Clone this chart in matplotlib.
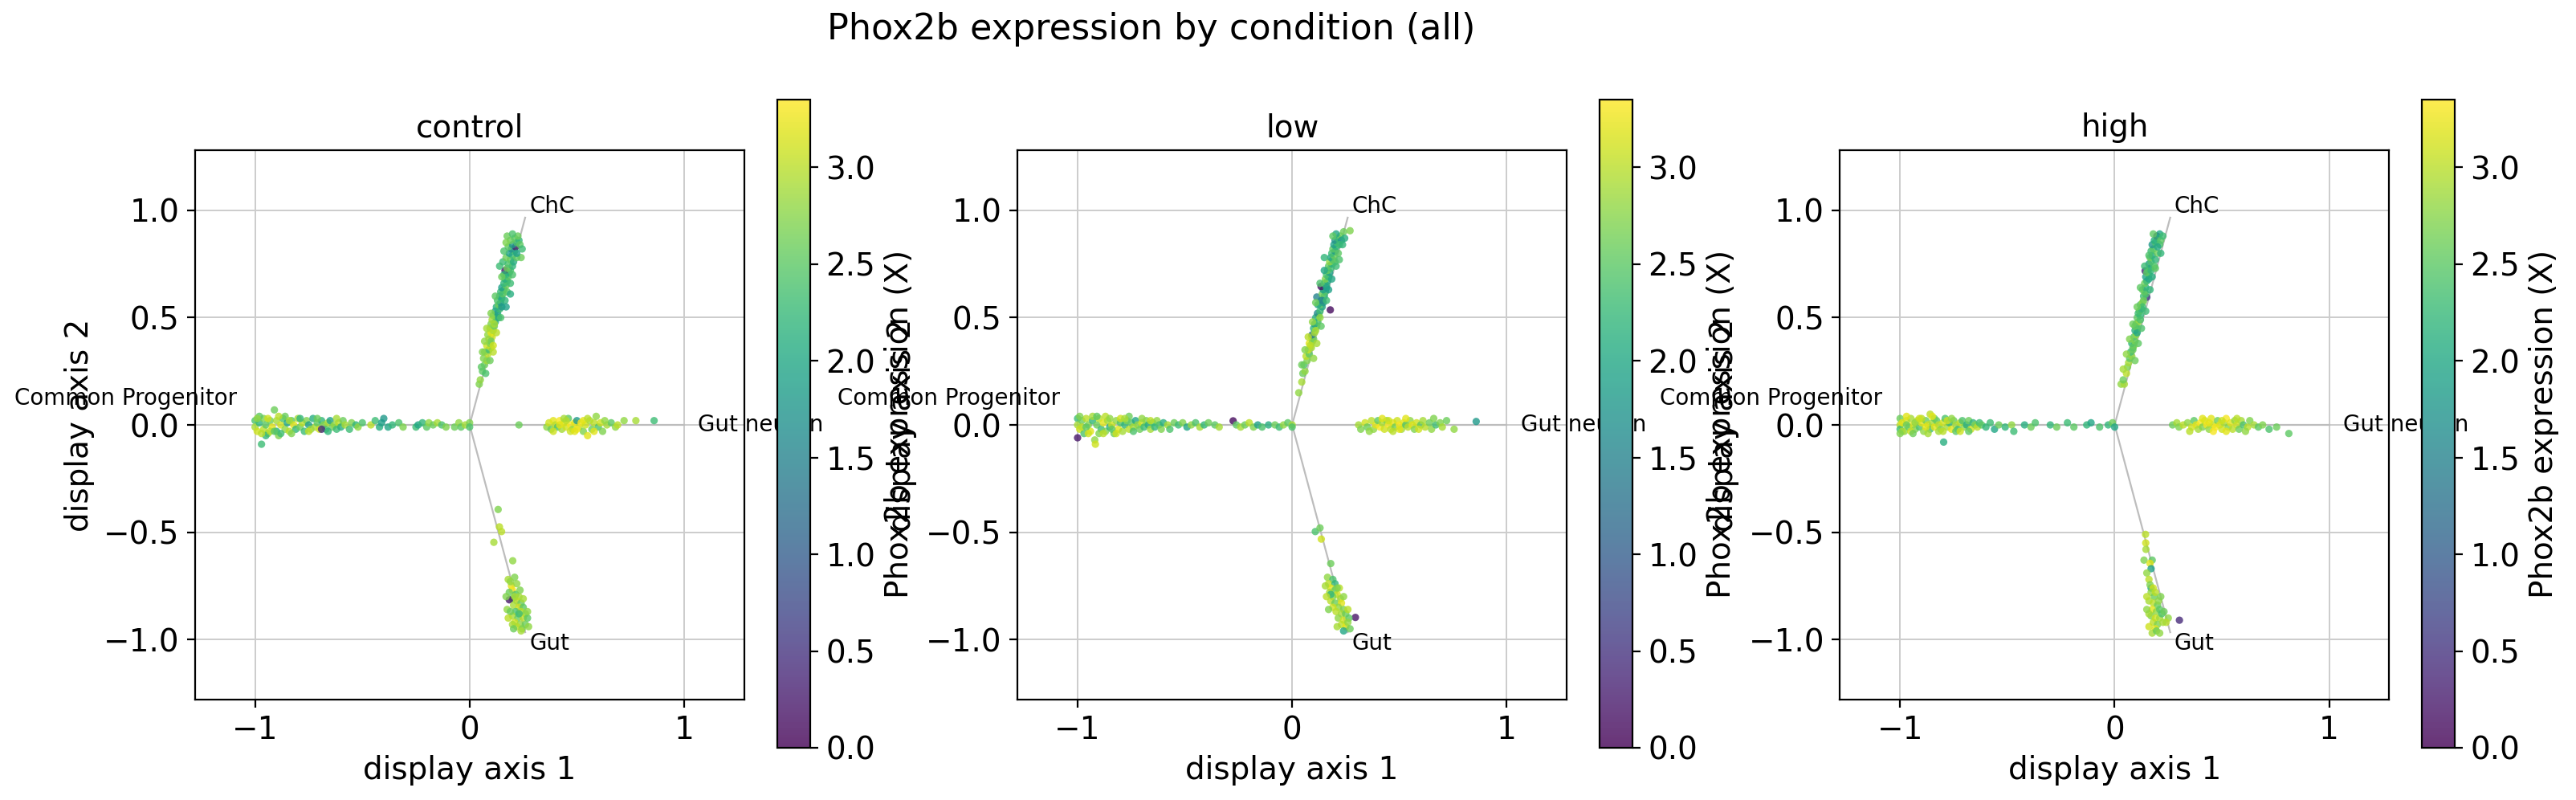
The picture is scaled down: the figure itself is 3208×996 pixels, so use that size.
import matplotlib
matplotlib.use('Agg')
import matplotlib.pyplot as plt
import numpy as np


conditions = ['control', 'low', 'high']
branch_names = ['Common Progenitor', 'Gut neuron', 'ChC', 'Gut']
branch_ends = [(-1.0, 0.0), (1.0, 0.0), (0.259, 0.966), (0.259, -0.966)]

# (x, y, Phox2b) per branch
control_cp = [(-1.0,0.02,2.4),(-1.0,-0.01,2.9),(-0.99,-0.03,3.1),(-0.98,0.01,2.2),(-0.97,-0.09,2.3),(-0.96,0.03,2.7),
    (-0.96,-0.02,3.0),(-0.95,0.0,2.5),(-0.94,-0.04,2.8),(-0.93,0.02,2.6),(-0.92,-0.01,3.2),(-0.91,0.07,2.6),(-0.9,-0.03,2.1),
    (-0.9,0.02,2.9),(-0.89,-0.05,2.7),(-0.88,0.0,3.1),(-0.87,0.03,2.4),(-0.86,-0.02,2.8),(-0.85,0.01,2.0),(-0.84,-0.03,3.0),
    (-0.83,0.02,2.5),(-0.82,0.0,3.2),(-0.81,-0.02,2.2),(-0.8,0.03,2.9),(-0.79,-0.01,2.6),(-0.78,0.01,3.0),(-0.77,-0.03,2.3),
    (-0.76,0.02,2.7),(-0.75,0.0,1.9),(-0.74,-0.02,2.8),(-0.73,0.03,2.1),(-0.72,-0.01,2.9),(-0.71,0.01,2.5),(-0.7,-0.02,3.1),
    (-0.69,0.02,2.2),(-0.68,0.0,2.7),(-0.67,-0.02,2.4),(-0.66,0.01,2.9),(-0.65,0.02,1.9),(-0.64,-0.01,2.6),(-0.63,0.0,2.8),
    (-0.62,-0.02,2.3),(-0.61,0.01,3.0),(-0.6,-0.01,2.1),(-0.59,0.02,2.6),(-0.58,0.0,2.9),(-0.56,-0.02,2.3),(-0.55,0.01,2.7),
    (-0.53,0.0,2.2),(-0.52,-0.01,2.8),(-0.5,0.01,2.4),(-0.98,0.04,2.5),(-0.95,-0.05,2.2),(-0.93,-0.03,3.0),(-0.88,-0.04,2.3),
    (-0.86,0.04,2.6),(-0.84,0.02,2.9),(-0.69,-0.02,0.4),(-0.46,0.0,3.0),(-0.44,0.02,2.3),(-0.42,-0.01,2.1),(-0.41,0.01,1.9),
    (-0.4,0.03,1.8),(-0.38,-0.01,2.0),(-0.36,0.0,2.2),(-0.33,0.01,2.4),(-0.31,-0.01,2.7),(-0.25,-0.01,2.3),(-0.24,0.0,2.0),
    (-0.22,0.01,2.2),(-0.2,-0.01,2.5),(-0.19,0.01,2.8),(-0.17,0.0,2.6),(-0.15,0.01,2.9),(-0.13,0.0,2.4),(-0.11,-0.01,2.7),
    (-0.07,-0.01,2.6),(-0.05,0.01,2.8),(-0.04,-0.01,2.5),(-0.02,0.0,2.9),(0.0,0.01,2.7),(0.0,-0.01,2.4),
    (-0.99,0.03,2.8),(-0.97,-0.04,3.0),(-0.94,0.03,3.1),(-0.91,-0.03,2.5),(-0.89,0.04,3.0),(-0.83,-0.04,2.7),
    (-0.79,0.03,2.2),(-0.75,-0.03,3.0),(-0.71,0.03,2.6),(-0.66,-0.03,2.2),(-0.62,0.03,2.9)]
control_gn = [(0.23,0.0,2.6),(0.36,-0.01,2.8),(0.37,0.01,3.1),(0.38,-0.02,2.6),(0.39,0.02,3.2),(0.4,0.0,3.0),(0.41,-0.01,2.4),
    (0.42,0.02,3.3),(0.43,-0.02,2.9),(0.44,0.01,3.2),(0.45,-0.01,3.1),(0.46,0.03,2.5),(0.47,0.0,3.3),(0.48,-0.02,2.8),
    (0.49,0.01,3.2),(0.5,0.02,1.8),(0.51,-0.01,3.0),(0.52,0.01,3.3),(0.53,-0.03,2.7),(0.54,0.0,3.1),(0.55,-0.05,3.2),
    (0.56,0.02,2.9),(0.57,-0.02,2.6),(0.58,0.01,3.0),(0.59,0.04,2.8),(0.6,-0.01,2.4),(0.61,0.01,3.1),(0.62,-0.03,2.7),
    (0.64,0.0,2.9),(0.66,0.01,2.5),(0.68,-0.01,2.8),(0.69,0.0,3.0),(0.72,0.02,2.8),(0.775,0.02,2.9),(0.86,0.02,2.3),
    (0.42,0.0,3.2),(0.45,0.02,3.0),(0.5,-0.02,3.3),(0.47,-0.03,3.1),(0.53,0.02,3.2),
    (0.39,-0.03,3.1),(0.44,0.03,2.9),(0.49,-0.03,3.2),(0.55,0.03,3.0),(0.58,-0.03,3.2),(0.63,0.02,2.8)]
control_chc = [(0.045,0.19,2.7),(0.05,0.21,2.8),(0.06,0.25,2.5),(0.075,0.24,2.4),(0.07,0.28,2.6),(0.08,0.30,2.9),
    (0.065,0.31,2.7),(0.085,0.33,3.0),(0.07,0.34,2.8),(0.09,0.35,2.3),(0.1,0.36,2.9),(0.08,0.37,3.1),(0.095,0.38,2.7),
    (0.09,0.40,3.0),(0.105,0.41,3.1),(0.085,0.42,2.8),(0.1,0.43,3.2),(0.11,0.44,2.9),(0.095,0.45,3.0),(0.115,0.46,2.6),
    (0.1,0.47,2.7),(0.12,0.48,2.2),(0.105,0.49,2.9),(0.125,0.50,2.5),(0.11,0.51,2.8),(0.13,0.52,2.0),(0.12,0.53,1.9),
    (0.14,0.54,2.3),(0.125,0.55,2.1),(0.135,0.56,2.6),(0.145,0.57,1.9),(0.13,0.58,2.4),(0.15,0.59,2.2),(0.14,0.60,2.0),
    (0.155,0.61,2.5),(0.145,0.62,2.3),(0.16,0.63,2.4),(0.15,0.64,1.9),(0.17,0.65,2.6),(0.16,0.66,2.2),(0.175,0.67,2.4),
    (0.165,0.68,2.1),(0.18,0.69,2.5),(0.17,0.70,2.3),(0.185,0.71,2.0),(0.165,0.72,0.2),(0.19,0.72,2.4),(0.175,0.73,2.6),
    (0.2,0.74,2.2),(0.18,0.75,2.4),(0.155,0.76,2.3),(0.19,0.77,2.5),(0.205,0.76,2.1),(0.17,0.78,2.6),(0.2,0.79,2.3),
    (0.185,0.80,1.9),(0.21,0.81,2.4),(0.195,0.82,1.7),(0.18,0.83,2.5),(0.215,0.83,0.3),(0.2,0.84,1.8),(0.22,0.85,2.4),
    (0.19,0.86,2.6),(0.21,0.87,2.5),(0.23,0.86,2.2),(0.17,0.85,2.7),(0.225,0.88,2.6),(0.235,0.84,2.5),(0.24,0.78,2.6),
    (0.1,0.39,2.6),(0.115,0.47,2.9),(0.135,0.5,2.0),(0.15,0.55,1.8),(0.16,0.7,2.2),(0.2,0.7,2.4),(0.175,0.62,2.5),
    (0.11,0.34,3.0),(0.14,0.74,2.3),(0.22,0.78,2.5),(0.245,0.82,2.3),(0.16,0.81,2.4),(0.175,0.88,2.6),(0.2,0.89,2.4),
    (0.22,0.8,1.9),(0.15,0.69,2.6),(0.19,0.66,2.3),(0.12,0.6,2.5),(0.165,0.58,2.2),(0.1,0.52,2.7),(0.145,0.5,2.4),
    (0.08,0.45,2.9),(0.125,0.43,3.0),(0.07,0.39,2.8),(0.11,0.37,3.1),(0.06,0.34,2.7),(0.095,0.3,2.6),(0.055,0.27,2.5),
    (0.19,0.61,2.1),(0.17,0.55,1.9)]
control_gut = [(0.133,-0.394,2.7),(0.139,-0.475,3.0),(0.149,-0.497,3.0),(0.113,-0.547,2.9),(0.201,-0.633,2.8),
    (0.18,-0.72,2.9),(0.21,-0.71,2.7),(0.195,-0.75,3.2),(0.22,-0.74,2.8),(0.2,-0.77,3.3),(0.185,-0.78,2.6),(0.215,-0.79,2.4),
    (0.23,-0.8,2.9),(0.2,-0.81,2.5),(0.185,-0.815,0.2),(0.22,-0.82,3.0),(0.24,-0.83,2.6),(0.205,-0.84,2.9),(0.23,-0.85,3.1),
    (0.25,-0.85,2.5),(0.175,-0.86,2.8),(0.215,-0.87,2.4),(0.24,-0.87,3.0),(0.26,-0.88,2.7),(0.2,-0.89,2.9),(0.225,-0.9,2.6),
    (0.25,-0.9,3.0),(0.27,-0.9,2.5),(0.21,-0.92,3.1),(0.235,-0.93,2.8),(0.26,-0.93,2.6),(0.22,-0.94,3.0),(0.245,-0.95,2.7),
    (0.275,-0.94,2.8),(0.2,-0.93,2.9),(0.23,-0.88,2.3),(0.21,-0.8,2.9),(0.235,-0.77,2.7),
    (0.19,-0.73,2.8),(0.17,-0.8,2.7),(0.25,-0.81,2.9),(0.19,-0.87,2.6),(0.27,-0.87,2.8),(0.24,-0.96,2.9),(0.205,-0.95,2.6),
    (0.18,-0.9,3.0)]

low_cp = [(-1.0,0.03,2.3),(-1.0,0.0,2.9),(-1.0,-0.06,0.2),(-0.99,-0.02,3.1),(-0.98,0.02,2.6),(-0.97,-0.04,2.4),
    (-0.96,0.03,3.0),(-0.95,0.0,2.7),(-0.94,-0.03,3.2),(-0.93,0.02,2.2),(-0.92,-0.07,2.8),(-0.917,-0.09,3.1),(-0.91,0.0,2.6),
    (-0.9,0.03,3.0),(-0.89,-0.02,2.3),(-0.88,0.01,3.2),(-0.87,-0.03,2.7),(-0.86,0.02,2.9),(-0.85,-0.01,2.1),(-0.84,0.0,3.1),
    (-0.83,-0.04,2.6),(-0.82,0.02,2.8),(-0.81,-0.02,3.2),(-0.8,0.01,2.4),(-0.79,-0.03,2.9),(-0.78,0.0,2.2),(-0.77,0.02,2.7),
    (-0.76,-0.02,3.0),(-0.75,0.01,2.5),(-0.74,-0.01,2.9),(-0.73,0.02,2.0),(-0.72,0.0,2.8),(-0.71,-0.02,2.6),(-0.7,0.01,3.1),
    (-0.69,-0.01,2.3),(-0.68,0.02,2.7),(-0.67,0.0,2.1),(-0.66,-0.02,2.9),(-0.65,0.01,2.5),(-0.64,-0.01,2.2),(-0.63,0.02,2.8),
    (-0.62,0.0,2.4),(-0.61,-0.02,2.7),(-0.6,0.01,2.1),(-0.58,0.0,2.9),(-0.57,-0.02,2.4),(-0.55,0.01,2.6),(-0.98,-0.01,3.0),
    (-0.96,-0.01,2.5),(-0.93,0.04,2.9),(-0.9,-0.04,2.7),(-0.87,0.04,3.0),(-0.84,-0.02,2.5),(-0.8,0.03,3.1),(-0.76,0.04,2.6),
    (-0.53,0.0,2.3),(-0.51,0.01,2.7),(-0.49,-0.01,2.0),(-0.47,0.0,2.8),(-0.45,0.01,2.4),(-0.43,-0.01,2.9),(-0.41,0.0,2.2),
    (-0.39,0.01,2.6),(-0.36,0.0,2.5),(-0.34,-0.01,2.9),(-0.275,0.019,0.1),(-0.26,0.0,2.5),(-0.24,-0.01,2.9),(-0.22,0.0,2.6),
    (-0.2,0.01,3.0),(-0.18,-0.01,2.7),(-0.16,0.0,1.9),(-0.14,-0.01,2.4),(-0.11,0.0,2.1),(-0.08,0.0,2.6),(-0.06,-0.01,2.3),
    (-0.04,0.0,2.8),(-0.02,0.01,2.5),(0.0,0.0,2.9),(0.0,-0.01,2.4),
    (-0.99,0.04,2.7),(-0.95,-0.04,3.1),(-0.91,0.04,2.5),(-0.88,-0.04,3.0),(-0.85,0.03,2.8),(-0.82,-0.04,3.1),
    (-0.78,0.03,2.9),(-0.74,-0.03,2.4),(-0.7,0.03,2.8),(-0.66,0.02,3.0)]
low_gn = [(0.31,0.0,2.9),(0.32,-0.02,2.7),(0.34,0.01,3.1),(0.35,-0.01,2.6),(0.37,0.02,3.0),(0.38,-0.02,2.8),(0.39,0.0,3.2),
    (0.4,0.02,2.5),(0.41,-0.01,3.3),(0.42,0.01,2.9),(0.43,-0.02,3.1),(0.44,0.02,2.7),(0.45,0.0,3.3),(0.46,-0.02,3.0),
    (0.47,0.01,3.2),(0.48,-0.01,2.6),(0.49,0.02,3.1),(0.5,0.0,3.3),(0.51,-0.02,2.9),(0.52,0.01,3.2),(0.53,0.0,2.4),
    (0.54,-0.01,3.0),(0.55,0.02,2.8),(0.56,0.0,3.2),(0.57,-0.02,2.7),(0.58,0.01,3.1),(0.6,0.0,2.5),(0.61,0.02,2.9),
    (0.62,-0.01,3.0),(0.64,0.01,2.6),(0.65,-0.02,2.8),(0.67,0.0,2.3),(0.69,0.01,2.7),(0.7,-0.01,2.9),(0.72,0.02,2.6),
    (0.755,-0.02,2.8),(0.858,0.016,1.8),(0.45,0.02,3.1),(0.5,-0.02,3.2),
    (0.36,-0.03,2.8),(0.42,0.03,3.2),(0.47,-0.03,3.0),(0.53,0.03,3.2),(0.59,-0.02,3.1),(0.66,0.03,2.7)]
low_chc = [(0.031,0.15,2.8),(0.045,0.2,2.9),(0.05,0.24,2.6),(0.06,0.25,2.8),(0.055,0.28,2.4),(0.07,0.3,2.7),(0.065,0.32,3.0),
    (0.08,0.33,2.5),(0.075,0.35,3.1),(0.09,0.36,2.9),(0.08,0.38,3.2),(0.095,0.39,2.8),(0.09,0.41,3.0),(0.1,0.4,2.6),
    (0.093,0.42,1.3),(0.105,0.43,2.9),(0.1,0.45,2.2),(0.115,0.46,2.7),(0.105,0.47,1.9),(0.12,0.48,2.4),(0.11,0.5,2.1),
    (0.125,0.51,2.6),(0.118,0.52,1.6),(0.13,0.53,2.3),(0.178,0.536,0.1),(0.14,0.55,2.0),(0.13,0.56,2.5),(0.145,0.57,1.8),
    (0.135,0.58,2.3),(0.115,0.596,1.5),(0.15,0.6,2.1),(0.14,0.61,2.6),(0.155,0.62,2.4),(0.145,0.63,1.9),(0.135,0.645,0.1),
    (0.16,0.65,2.3),(0.15,0.66,2.5),(0.165,0.67,2.0),(0.155,0.68,2.7),(0.17,0.69,2.2),(0.16,0.7,2.4),(0.175,0.71,1.9),
    (0.165,0.72,2.6),(0.18,0.73,2.3),(0.17,0.74,2.5),(0.185,0.75,2.1),(0.175,0.76,2.8),(0.19,0.77,2.4),(0.18,0.78,2.0),
    (0.195,0.79,2.6),(0.185,0.8,2.3),(0.2,0.81,1.8),(0.19,0.82,2.5),(0.205,0.83,2.2),(0.195,0.84,1.9),(0.21,0.85,2.4),
    (0.2,0.86,1.7),(0.215,0.87,2.3),(0.225,0.88,2.6),(0.205,0.89,2.0),(0.24,0.9,2.6),(0.27,0.905,2.7),(0.23,0.86,1.8),
    (0.215,0.8,2.5),(0.22,0.84,2.3),(0.2,0.76,2.5),(0.16,0.64,1.9),(0.13,0.5,2.8),(0.11,0.44,2.9),(0.085,0.37,3.0),
    (0.12,0.56,2.0),(0.14,0.58,1.5),(0.15,0.72,2.0),
    (0.15,0.78,2.2),(0.22,0.77,2.4),(0.235,0.84,2.2),(0.19,0.88,2.5),(0.245,0.87,2.1),(0.13,0.66,2.4),(0.185,0.68,2.0),
    (0.11,0.57,2.6),(0.16,0.58,2.3),(0.095,0.48,2.8),(0.135,0.46,2.5),(0.075,0.41,3.0),(0.115,0.38,2.9),(0.06,0.35,2.7),
    (0.1,0.31,2.8),(0.045,0.28,2.6),(0.205,0.74,2.3),(0.17,0.63,1.9)]
low_gut = [(0.108,-0.497,2.4),(0.13,-0.48,2.6),(0.136,-0.532,3.1),(0.18,-0.646,2.6),(0.165,-0.71,2.8),(0.19,-0.72,2.4),
    (0.17,-0.74,3.0),(0.2,-0.74,2.2),(0.18,-0.76,3.2),(0.2,-0.77,2.5),(0.175,-0.78,2.9),(0.21,-0.79,3.1),(0.19,-0.8,2.7),
    (0.225,-0.81,2.9),(0.18,-0.82,3.0),(0.2,-0.83,2.6),(0.23,-0.83,3.2),(0.215,-0.85,2.8),(0.19,-0.85,3.1),(0.24,-0.86,2.7),
    (0.205,-0.87,3.0),(0.23,-0.88,2.9),(0.25,-0.88,2.6),(0.295,-0.897,0.2),(0.215,-0.9,2.8),(0.24,-0.91,3.1),(0.265,-0.9,2.5),
    (0.23,-0.93,3.0),(0.25,-0.94,3.2),(0.24,-0.96,2.0),(0.26,-0.92,2.8),(0.18,-0.79,2.2),(0.22,-0.76,3.0),
    (0.155,-0.75,2.9),(0.21,-0.76,2.7),(0.16,-0.8,3.0),(0.24,-0.8,2.8),(0.17,-0.86,2.7),(0.26,-0.86,3.0),(0.21,-0.94,2.9),
    (0.27,-0.95,2.6)]

high_cp = [(-1.0,0.03,2.6),(-1.0,0.0,3.0),(-1.0,-0.02,2.3),(-0.99,0.01,3.2),(-0.98,-0.03,2.8),(-0.97,0.02,3.1),
    (-0.96,-0.01,2.5),(-0.95,0.03,2.9),(-0.94,0.0,3.2),(-0.93,-0.02,2.7),(-0.92,0.02,3.0),(-0.91,-0.01,2.4),(-0.9,0.01,3.2),
    (-0.89,-0.03,2.8),(-0.88,0.02,2.6),(-0.87,0.0,3.1),(-0.86,0.05,3.0),(-0.86,-0.02,2.3),(-0.85,0.01,2.9),(-0.84,-0.01,3.2),
    (-0.83,0.02,2.5),(-0.82,0.0,3.0),(-0.81,-0.02,2.7),(-0.8,0.01,3.1),(-0.797,-0.08,2.1),(-0.79,0.03,2.4),(-0.78,-0.01,2.9),
    (-0.77,0.01,2.2),(-0.76,-0.02,3.2),(-0.75,0.02,2.6),(-0.74,0.0,2.9),(-0.73,-0.02,2.3),(-0.72,0.01,3.0),(-0.71,0.02,2.4),
    (-0.7,-0.01,2.8),(-0.69,0.0,2.1),(-0.68,0.02,2.6),(-0.67,-0.02,3.1),(-0.66,0.01,2.2),(-0.65,0.0,2.7),(-0.64,-0.01,3.0),
    (-0.63,0.01,2.3),(-0.62,0.0,2.5),(-0.6,-0.01,2.2),(-0.99,-0.03,2.9),(-0.97,0.0,2.6),(-0.95,-0.03,3.1),(-0.93,0.01,2.8),
    (-0.9,0.03,3.0),(-0.88,-0.01,3.2),(-0.84,0.03,2.6),(-0.82,-0.03,2.9),(-0.78,0.02,3.1),(-0.74,-0.03,2.5),
    (-0.58,0.01,2.3),(-0.56,-0.02,2.0),(-0.54,0.0,2.6),(-0.51,-0.01,2.2),(-0.48,0.0,2.8),(-0.47,-0.03,2.3),(-0.42,0.0,2.1),
    (-0.39,-0.01,2.6),(-0.37,0.01,2.4),(-0.3,0.0,2.2),(-0.27,-0.01,2.6),(-0.22,0.01,2.3),(-0.19,-0.01,2.5),(-0.13,0.0,2.2),
    (-0.11,0.01,2.0),(-0.07,-0.01,2.4),(-0.03,0.0,2.2),(-0.01,0.01,2.6),(0.0,-0.01,2.0),
    (-1.0,-0.04,2.7),(-0.97,0.04,3.2),(-0.94,-0.04,2.6),(-0.91,0.03,3.1),(-0.87,-0.04,2.9),(-0.85,0.04,3.2),
    (-0.8,-0.03,3.0),(-0.76,0.03,2.8),(-0.72,-0.03,3.1),(-0.68,-0.03,2.5)]
high_gn = [(0.27,0.0,2.6),(0.29,0.01,2.9),(0.3,-0.01,2.7),(0.32,0.0,3.0),(0.34,0.01,2.8),(0.36,-0.01,3.1),(0.37,0.02,2.5),
    (0.38,0.0,3.2),(0.39,-0.02,2.9),(0.4,0.01,3.3),(0.41,-0.01,2.7),(0.42,0.02,3.1),(0.43,0.0,3.3),(0.44,-0.02,2.8),
    (0.45,0.03,3.2),(0.46,0.0,3.0),(0.47,-0.01,3.3),(0.48,0.02,2.6),(0.49,0.0,3.2),(0.5,-0.02,3.1),(0.51,0.01,2.9),
    (0.52,0.03,3.3),(0.53,-0.01,2.7),(0.54,0.01,3.2),(0.55,-0.02,3.0),(0.56,0.02,2.8),(0.57,0.0,3.1),(0.58,-0.02,2.6),
    (0.59,0.02,2.9),(0.6,0.0,2.4),(0.62,-0.01,3.0),(0.63,0.02,2.7),(0.65,0.0,2.9),(0.67,-0.01,2.5),(0.69,0.0,2.7),
    (0.72,-0.02,2.4),(0.755,-0.01,2.6),(0.812,-0.04,2.5),(0.44,0.01,3.2),(0.5,0.02,3.1),
    (0.35,-0.03,3.0),(0.41,0.03,3.2),(0.46,-0.03,3.3),(0.52,-0.03,3.2),(0.57,0.03,3.0),(0.61,-0.03,2.8)]
high_chc = [(0.03,0.19,2.8),(0.045,0.19,2.9),(0.04,0.21,2.6),(0.055,0.24,3.0),(0.06,0.27,2.7),(0.065,0.29,2.9),
    (0.07,0.31,2.5),(0.08,0.32,2.8),(0.075,0.34,2.3),(0.085,0.35,2.6),(0.09,0.37,2.9),(0.08,0.38,2.2),(0.095,0.39,2.7),
    (0.09,0.41,2.4),(0.1,0.42,2.8),(0.095,0.44,2.1),(0.105,0.45,2.6),(0.1,0.47,2.3),(0.11,0.48,2.9),(0.105,0.5,2.5),
    (0.12,0.51,2.2),(0.115,0.53,2.7),(0.125,0.54,1.9),(0.12,0.56,2.4),(0.13,0.57,2.8),(0.15,0.595,0.6),(0.135,0.6,2.3),
    (0.14,0.62,2.9),(0.13,0.63,2.5),(0.145,0.64,2.1),(0.14,0.66,2.6),(0.15,0.67,2.3),(0.145,0.69,1.9),(0.16,0.7,2.4),
    (0.142,0.718,0.4),(0.155,0.72,2.2),(0.165,0.73,2.5),(0.16,0.75,1.8),(0.17,0.76,2.4),(0.165,0.78,2.6),(0.175,0.79,2.0),
    (0.17,0.81,2.3),(0.18,0.82,2.5),(0.175,0.84,1.8),(0.19,0.85,2.4),(0.185,0.86,2.1),(0.197,0.88,0.3),(0.2,0.87,2.2),
    (0.21,0.89,2.0),(0.215,0.86,2.5),(0.2,0.8,2.6),(0.19,0.77,2.2),(0.185,0.74,2.4),(0.16,0.68,2.0),(0.135,0.58,2.6),
    (0.12,0.49,2.4),(0.105,0.43,2.0),(0.085,0.36,2.5),(0.11,0.52,2.3),(0.15,0.71,2.5),(0.21,0.84,2.4),(0.2,0.83,2.0),
    (0.17,0.72,2.2),(0.13,0.55,2.3),(0.095,0.46,2.5),(0.145,0.61,2.4),
    (0.14,0.74,2.3),(0.19,0.73,2.5),(0.215,0.8,2.2),(0.16,0.79,2.4),(0.18,0.89,2.5),(0.225,0.88,2.3),(0.12,0.64,2.5),
    (0.165,0.63,2.2),(0.105,0.55,2.6),(0.145,0.53,2.3),(0.085,0.47,2.6),(0.125,0.45,2.4),(0.07,0.4,2.7),(0.11,0.38,2.5),
    (0.055,0.33,2.8),(0.095,0.3,2.6),(0.04,0.26,2.9),(0.175,0.69,2.1)]
high_gut = [(0.144,-0.51,3.0),(0.145,-0.55,3.1),(0.146,-0.58,2.9),(0.137,-0.63,2.7),(0.175,-0.63,2.5),(0.165,-0.645,3.2),
    (0.17,-0.67,1.9),(0.15,-0.69,2.8),(0.16,-0.72,3.0),(0.17,-0.76,2.0),(0.165,-0.745,2.7),(0.18,-0.76,3.1),(0.17,-0.78,2.8),
    (0.185,-0.8,2.6),(0.16,-0.82,2.9),(0.18,-0.83,3.0),(0.2,-0.84,2.6),(0.175,-0.86,3.2),(0.195,-0.87,2.8),(0.21,-0.86,2.5),
    (0.17,-0.89,2.7),(0.19,-0.9,3.1),(0.21,-0.9,2.9),(0.18,-0.92,3.0),(0.2,-0.93,2.7),(0.19,-0.95,3.2),(0.175,-0.97,2.9),
    (0.302,-0.91,0.4),(0.22,-0.88,2.4),(0.16,-0.88,2.9),(0.205,-0.82,2.8),(0.19,-0.78,3.0),(0.195,-0.96,2.6),
    (0.23,-0.87,2.6),(0.25,-0.9,2.8),(0.24,-0.92,3.0),
    (0.15,-0.8,3.0),(0.215,-0.8,2.7),(0.15,-0.86,2.8),(0.225,-0.92,2.9),(0.16,-0.94,3.1),(0.21,-0.97,2.8)]

panels = [
    [control_cp, control_gn, control_chc, control_gut],
    [low_cp, low_gn, low_chc, low_gut],
    [high_cp, high_gn, high_chc, high_gut],
]

vmin, vmax = 0.0, 3.35

fig = plt.figure(figsize=(16.04, 4.98), dpi=200)
fig.suptitle('Phox2b expression by condition (all)', x=0.447, y=0.985, va='top', fontsize=16)

ax_lefts = [0.0757, 0.3950, 0.7143]
cb_lefts = [0.3017, 0.6209, 0.9401]

for i, cond in enumerate(conditions):
    ax = fig.add_axes([ax_lefts[i], 0.1255, 0.2132, 0.6867])
    pts = [p for branch in panels[i] for p in branch]
    x = [p[0] for p in pts]
    y = [p[1] for p in pts]
    c = [p[2] for p in pts]

    for (ex, ey) in branch_ends:
        ax.plot([0, ex], [0, ey], color='#bdbdbd', lw=0.8, zorder=1)
    sc = ax.scatter(x, y, c=c, cmap='viridis', vmin=vmin, vmax=vmax, s=11,
                    alpha=0.8, linewidths=0, zorder=2)

    ax.text(-1.083, 0.073, branch_names[0], ha='right', va='bottom', fontsize=10)
    ax.text(1.065, 0.0, branch_names[1], ha='left', va='center', fontsize=10)
    ax.text(0.279, 0.966, branch_names[2], ha='left', va='bottom', fontsize=10)
    ax.text(0.279, -0.966, branch_names[3], ha='left', va='top', fontsize=10)

    ax.set_xlim(-1.28, 1.28)
    ax.set_ylim(-1.28, 1.28)
    ax.set_xticks([-1, 0, 1])
    ax.set_yticks([-1.0, -0.5, 0.0, 0.5, 1.0])
    ax.tick_params(labelsize=14)
    ax.grid(True, color='#cccccc', lw=0.7)
    ax.set_axisbelow(True)
    ax.set_title(cond, fontsize=14)
    ax.set_xlabel('display axis 1', fontsize=14)
    ax.set_ylabel('display axis 2', fontsize=14)

    cax = fig.add_axes([cb_lefts[i], 0.0653, 0.01278, 0.8102])
    cb = fig.colorbar(sc, cax=cax)
    cb.set_label('Phox2b expression (X)', fontsize=14)
    cb.ax.tick_params(labelsize=14)

fig.savefig('out.png', dpi=200)
